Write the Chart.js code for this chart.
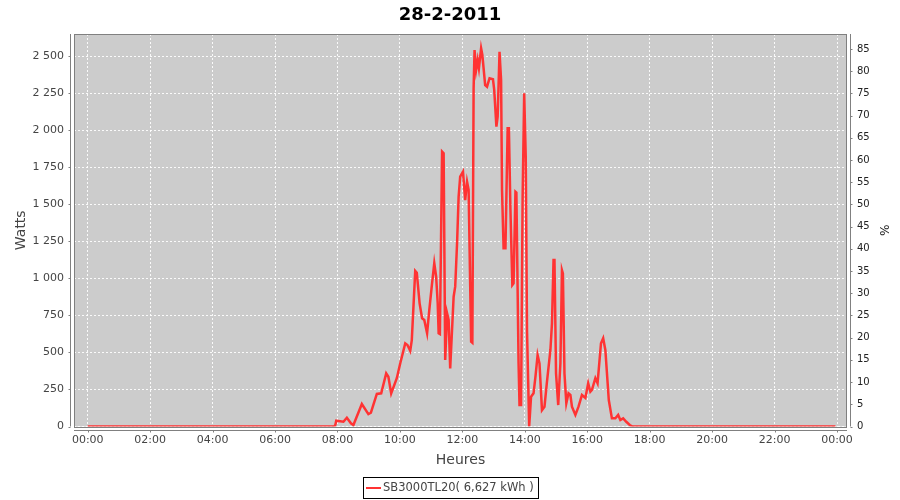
<!DOCTYPE html>
<html lang="fr">
<head>
  <meta charset="UTF-8" />
  <title>28-2-2011</title>
  <script src="https://cdn.jsdelivr.net/npm/chart.js"></script>
  <style>
    body { margin: 0; background: #fff; }
    #wrap { width: 900px; height: 500px; }
  </style>
</head>
<body>
  <div id="wrap"><canvas id="chart" width="900" height="500"></canvas></div>
  <script>
    // heure de la journée (décimale) et puissance en watts
    const hours = [0, 7.90, 7.93, 7.96, 8.19, 8.30, 8.43, 8.51, 8.78, 8.99, 9.07, 9.26, 9.40, 9.56, 9.63, 9.72, 9.90,
      10.01, 10.17, 10.24, 10.33, 10.38, 10.49, 10.54, 10.63, 10.71, 10.78, 10.87, 10.94, 11.03, 11.10, 11.16,
      11.21, 11.24, 11.28, 11.35, 11.40, 11.45, 11.51, 11.56, 11.61, 11.72, 11.77, 11.83, 11.88, 11.93, 12.02,
      12.09, 12.15, 12.20, 12.28, 12.32, 12.36, 12.39, 12.44, 12.49, 12.53, 12.60, 12.64, 12.73, 12.79, 12.87,
      12.98, 13.02, 13.09, 13.13, 13.19, 13.24, 13.27, 13.32, 13.38, 13.45, 13.49, 13.54, 13.60, 13.64, 13.70,
      13.73, 13.80, 13.83, 13.88, 13.93, 13.98, 14.03, 14.07, 14.14, 14.20, 14.28, 14.34, 14.41, 14.47, 14.55,
      14.63, 14.71, 14.82, 14.87, 14.92, 14.95, 15.00, 15.07, 15.14, 15.19, 15.22, 15.27, 15.33, 15.40, 15.46,
      15.51, 15.62, 15.72, 15.83, 15.94, 16.03, 16.10, 16.15, 16.26, 16.33, 16.44, 16.51, 16.58, 16.69, 16.79,
      16.90, 16.99, 17.06, 17.15, 17.25, 17.36, 17.45, 23.95];
    const watts = [0, 0, 10, 39, 32, 59, 22, 10, 152, 84, 93, 220, 224, 359, 336, 224, 326,
      427, 562, 551, 512, 584, 1051, 1039, 832, 731, 720, 630, 787, 968, 1103, 1012,
      832, 630, 625, 1857, 1846, 449, 765, 720, 393, 877, 945, 1238, 1553, 1688, 1722,
      1530, 1654, 1598, 573, 566, 2285, 2544, 2409, 2476, 2420, 2555, 2510, 2307, 2296, 2353,
      2346, 2274, 2026, 2093, 2532, 2341, 1598, 1204, 1204, 2015, 2015, 1463, 956, 968, 1586,
      1580, 427, 145, 145, 1553, 2251, 1823, 652, 0, 201, 224, 336, 483, 427, 111,
      134, 303, 517, 697, 1125, 1125, 359, 145, 427, 1057, 1035, 359, 157, 224, 213,
      134, 78, 134, 213, 193, 292, 235, 247, 326, 292, 562, 596, 517, 179, 55,
      55, 78, 44, 55, 32, 10, 0, 0];

    const hourTicks = [0, 2, 4, 6, 8, 10, 12, 14, 16, 18, 20, 22, 24];
    const wattTicks = [0, 250, 500, 750, 1000, 1250, 1500, 1750, 2000, 2250, 2500];
    const pctTicks = [0, 5, 10, 15, 20, 25, 30, 35, 40, 45, 50, 55, 60, 65, 70, 75, 80, 85];
    const titleText = '28-2-2011';
    const legendLabel = 'SB3000TL20( 6,627 kWh )';

    const points = hours.map((h, i) => ({ x: h, y: watts[i] }));

    const fmtHour = (v) => String(Math.round(v) % 24).padStart(2, '0') + ':00';
    const fmtWatt = (v) => String(v).replace(/\B(?=(\d{3})+(?!\d))/g, ' ');

    const axisGray = '#808080';
    const gridStyle = { color: 'rgba(255,255,255,0.9)', lineWidth: 1, drawTicks: false };

    // fond gris de la zone de tracé, cadre, axes décalés et légende encadrée
    const jfreeLook = {
      id: 'jfreeLook',
      beforeDraw(chart) {
        const { ctx, chartArea: a } = chart;
        ctx.save();
        ctx.fillStyle = '#cccccc';
        ctx.fillRect(a.left, a.top, a.right - a.left, a.bottom - a.top);
        ctx.restore();
      },
      beforeDatasetsDraw(chart) {
        const { ctx, chartArea: a, scales } = chart;
        ctx.save();
        ctx.strokeStyle = axisGray;
        ctx.lineWidth = 1;
        ctx.strokeRect(Math.round(a.left) + 0.5, Math.round(a.top) + 0.5,
          Math.round(a.right - a.left) - 1, Math.round(a.bottom - a.top));
        // axe gauche
        const lx = Math.round(a.left) - 3.5;
        ctx.beginPath();
        ctx.moveTo(lx, a.top); ctx.lineTo(lx, a.bottom);
        scales.y.ticks.forEach(t => {
          const y = Math.round(scales.y.getPixelForValue(t.value)) + 0.5;
          ctx.moveTo(lx, y); ctx.lineTo(lx - 2, y);
        });
        // axe droit
        const rx = Math.round(a.right) + 3.5;
        ctx.moveTo(rx, a.top); ctx.lineTo(rx, a.bottom);
        scales.y2.ticks.forEach(t => {
          const y = Math.round(scales.y2.getPixelForValue(t.value)) + 0.5;
          ctx.moveTo(rx, y); ctx.lineTo(rx + 2, y);
        });
        // axe du bas
        const by = Math.round(a.bottom) + 3.5;
        ctx.moveTo(a.left, by); ctx.lineTo(a.right, by);
        scales.x.ticks.forEach(t => {
          const x = Math.round(scales.x.getPixelForValue(t.value)) + 0.5;
          ctx.moveTo(x, by); ctx.lineTo(x, by + 2);
        });
        ctx.stroke();
        ctx.restore();
      },
      afterDraw(chart) {
        const { ctx } = chart;
        ctx.save();
        ctx.strokeStyle = '#000';
        ctx.lineWidth = 1;
        ctx.strokeRect(363.5, 477.5, 175, 21);
        ctx.strokeStyle = '#ff3333';
        ctx.lineWidth = 2;
        ctx.beginPath();
        ctx.moveTo(366, 488); ctx.lineTo(381, 488);
        ctx.stroke();
        ctx.fillStyle = '#444';
        ctx.font = '11.5px "DejaVu Sans"';
        ctx.textBaseline = 'middle';
        ctx.fillText(legendLabel, 383, 488.5);
        ctx.restore();
      }
    };

    new Chart(document.getElementById('chart'), {
      type: 'line',
      data: {
        datasets: [{
          label: legendLabel,
          data: points,
          borderColor: '#ff3333',
          borderWidth: 2.5,
          pointRadius: 0,
          tension: 0,
          fill: false,
          yAxisID: 'y'
        }]
      },
      options: {
        responsive: false,
        animation: false,
        layout: { padding: { left: 0, right: 0, top: 0, bottom: 30 } },
        plugins: {
          legend: { display: false },
          tooltip: { enabled: false },
          title: {
            display: true,
            text: titleText,
            color: '#000',
            font: { family: 'DejaVu Sans', size: 18, weight: 'bold' },
            padding: { top: 5, bottom: 7.4 }
          }
        },
        scales: {
          x: {
            type: 'linear',
            min: -0.44,
            max: 24.32,
            afterBuildTicks: (s) => { s.ticks = hourTicks.map(v => ({ value: v })); },
            afterFit: (s) => { s.height = 43.5; },
            grid: gridStyle,
            border: { display: false, dash: [2, 2] },
            ticks: {
              padding: 7,
              color: '#444',
              font: { family: 'DejaVu Sans', size: 11 },
              maxRotation: 0,
              autoSkip: false,
              callback: (v) => fmtHour(v)
            },
            title: {
              display: true,
              text: 'Heures',
              color: '#444',
              font: { family: 'DejaVu Sans', size: 14 },
              padding: { top: 0, bottom: 1 }
            }
          },
          y: {
            position: 'left',
            min: 0,
            max: 2652,
            afterBuildTicks: (s) => { s.ticks = wattTicks.map(v => ({ value: v })); },
            afterFit: (s) => { s.width = 74; },
            grid: gridStyle,
            border: { display: false, dash: [2, 2] },
            ticks: {
              padding: 10,
              color: '#444',
              font: { family: 'DejaVu Sans', size: 11 },
              callback: (v) => fmtWatt(v)
            },
            title: {
              display: true,
              text: 'Watts',
              color: '#444',
              font: { family: 'DejaVu Sans', size: 14 },
              padding: { top: 13, bottom: 0 }
            }
          },
          y2: {
            position: 'right',
            min: 0,
            max: 88.4,
            afterBuildTicks: (s) => { s.ticks = pctTicks.map(v => ({ value: v })); },
            afterFit: (s) => { s.width = 53; },
            grid: { display: false, drawTicks: false },
            border: { display: false },
            ticks: {
              padding: 10,
              color: '#222',
              font: { family: 'DejaVu Sans', size: 10 },
              callback: (v) => String(v)
            },
            title: {
              display: true,
              text: '%',
              color: '#222',
              font: { family: 'DejaVu Sans', size: 12 },
              padding: { top: 10, bottom: 0 }
            }
          }
        }
      },
      plugins: [jfreeLook]
    });
  </script>
</body>
</html>
